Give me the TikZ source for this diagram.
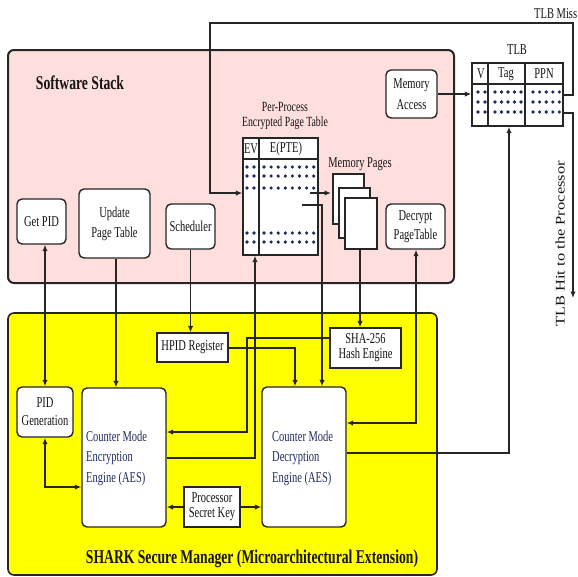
\documentclass[tikz,border=0pt]{standalone}
\usepackage{graphicx}
\usepackage{fontspec}
\setmainfont{Liberation Serif}[FakeStretch=0.7]
\newfontfamily\plainfont{Liberation Serif}
\usetikzlibrary{arrows.meta}
\definecolor{pinkbg}{HTML}{FFDEDE}
\definecolor{yel}{HTML}{FFFF00}
\definecolor{ink}{HTML}{141414}
\definecolor{navy}{HTML}{1F2A5C}
\definecolor{edge}{HTML}{262626}
\newcommand\nfont{\fontsize{15}{18}\selectfont}
\newcommand\sfont{\fontsize{15}{14}\selectfont}
\begin{document}
\begin{tikzpicture}[x=1pt,y=-1pt,
  >={Latex[length=6.5pt,width=5.5pt]},
  rbox/.style={draw=edge, line width=1.4pt, rounded corners=5pt, fill=white, inner sep=0pt, align=center, font=\nfont, text=ink},
  sbox/.style={draw=edge, line width=1.4pt, fill=white, inner sep=0pt, align=center, font=\sfont, text=ink},
  conn/.style={draw=edge, line width=1.4pt},
  lbl/.style={inner sep=0pt, align=center, font=\nfont, text=ink},
  dot/.style={fill=navy, draw=none}]
\useasboundingbox (0,0) rectangle (578,576);
% background regions
\draw[draw=edge, line width=2pt, fill=pinkbg, rounded corners=6pt] (8,50) rectangle (454,283);
\draw[draw=edge, line width=1.6pt, fill=yel, rounded corners=6pt] (8,313) rectangle (437,575);
\node[lbl, font=\fontsize{19.5}{20}\selectfont\bfseries] (sws) at (80,83) {Software Stack};
\node[lbl, font=\fontsize{19.5}{20}\selectfont\bfseries] (shark) at (252,559) {SHARK Secure Manager (Microarchitectural Extension)};

% software stack nodes
\node[rbox, minimum width=49pt, minimum height=45pt] (getpid) at (41.5,221.5) {Get PID};
\node[rbox, minimum width=71pt, minimum height=69pt, font=\fontsize{15}{20}\selectfont] (upt) at (114.5,223.5) {Update\\Page Table};
\node[rbox, minimum width=49pt, minimum height=45pt] (sched) at (190.5,226.5) {Scheduler};
\node[rbox, minimum width=59pt, minimum height=45pt, font=\fontsize{15}{19}\selectfont] (dpt) at (415.5,226.5) {Decrypt\\PageTable};
\node[rbox, minimum width=51pt, minimum height=48pt, font=\fontsize{15}{21}\selectfont] (ma) at (411.5,94) {Memory\\Access};

% page table
\node[lbl, font=\fontsize{14}{14.5}\selectfont] (ptlbl) at (285,116) {Per-Process\\Encrypted Page Table};
\node[draw=edge, line width=1.4pt, fill=white, minimum width=75pt, minimum height=117pt, inner sep=0pt] (pt) at (280.5,196.5) {};
\draw[conn] (pt.west |- 0,159) -- (pt.east |- 0,159);
\draw[conn] (259,0 |- pt.north) -- (259,0 |- pt.south);
\node[lbl] (ev) at (251,149) {EV};
\node[lbl] (epte) at (286,149) {E(PTE)};
\foreach \yy in {167,176,188,233,242} {
  \foreach \xx in {247,254} { \fill[dot] (\xx,\yy) circle (1.8pt); }
  \foreach \k in {0,...,7} { \fill[dot] (264+\k*7.1,\yy) circle (1.8pt); }
}

% memory pages
\node[lbl] (mplbl) at (360,164) {Memory Pages};
\draw[draw=edge, line width=1.3pt, fill=white] (333,174) rectangle (364,224);
\draw[draw=edge, line width=1.3pt, fill=white] (339,188) rectangle (370,238);
\node[draw=edge, line width=1.3pt, fill=white, minimum width=32pt, minimum height=51pt, inner sep=0pt] (mp3) at (361,223.5) {};

% TLB
\node[lbl] (tlblbl) at (517,50) {TLB};
\node[draw=edge, line width=1.4pt, fill=white, minimum width=91pt, minimum height=63pt, inner sep=0pt] (tlb) at (517.5,94.5) {};
\draw[conn] (tlb.west |- 0,84) -- (tlb.east |- 0,84);
\draw[conn] (488,0 |- tlb.north) -- (488,0 |- tlb.south);
\draw[conn] (525,0 |- tlb.north) -- (525,0 |- tlb.south);
\node[lbl] (tv) at (481,74) {V};
\node[lbl] (ttag) at (506,74) {Tag};
\node[lbl] (tppn) at (544,74) {PPN};
\foreach \yy in {92,102,112} {
  \foreach \xx in {478,485} { \fill[dot] (\xx,\yy) circle (1.8pt); }
  \foreach \k in {0,...,4} { \fill[dot] (495+\k*6.5,\yy) circle (1.8pt); }
  \foreach \k in {0,...,4} { \fill[dot] (533+\k*6.6,\yy) circle (1.8pt); }
}
\node[lbl, anchor=west] (miss) at (534,14) {TLB Miss};
\node[rotate=90, inner sep=0pt, text=ink] (hit) at (560,244) {\scalebox{1}[0.8]{\plainfont\fontsize{16.5}{18}\selectfont TLB Hit to the Processor}};

% SHARK nodes
\node[sbox, minimum width=71pt, minimum height=29pt] (hpid) at (192.5,347.5) {HPID Register};
\node[sbox, minimum width=71pt, minimum height=40pt, font=\fontsize{15}{15}\selectfont] (sha) at (365.5,348) {SHA-256\\Hash Engine};
\node[rbox, minimum width=56pt, minimum height=50pt] (pidgen) at (45,412) {PID\\Generation};
\node[rbox, minimum width=84pt, minimum height=139pt] (enc) at (124,457.5) {};
\node[lbl, anchor=west, align=left, text=navy, font=\fontsize{15}{20.5}\selectfont] (enctxt) at (86,458) {Counter Mode\\Encryption\\Engine (AES)};
\node[rbox, minimum width=84pt, minimum height=140pt] (dec) at (304,457) {};
\node[lbl, anchor=west, align=left, text=navy, font=\fontsize{15}{20.5}\selectfont] (dectxt) at (272,458) {Counter Mode\\Decryption\\Engine (AES)};
\node[sbox, minimum width=56pt, minimum height=40pt, font=\fontsize{15}{15}\selectfont] (psk) at (212,507) {Processor\\Secret Key};

% connectors
\draw[conn, <->] (getpid.south -| pidgen.north) -- (pidgen.north);
\draw[conn, <->] (pidgen.south) |- (enc.west |- 0,487);
\draw[conn, ->] (upt.south -| 116,0) -- (enc.north -| 116,0);
\draw[conn, ->] (sched.south) -- (hpid.north -| sched.south);
\draw[conn, ->] (hpid.east |- 0,348) -| (dec.north -| 295,0);
\draw[conn, ->] (sha.west |- 0,338) -| (247,432) -- (enc.east |- 0,432);
\draw[conn, ->] (mp3.south -| 360,0) -- (sha.north -| 360,0);
\coordinate (ptout1) at (310,193);
\coordinate (ptout2) at (302,205);
\draw[conn, ->] (ptout1) -- (331,193);
\draw[conn, ->] (ptout2) -| (dec.north -| 322,0);
\draw[conn, ->] (enc.east |- 0,458) -| (pt.south -| 255,0);
\draw[conn, <->] (dec.east |- 0,423) -| (dpt.south -| 416,0);
\draw[conn, ->] (dec.east |- 0,453) -| (tlb.south -| 509,0);
\draw[conn, ->] (ma.east) -- (tlb.west |- ma.east);
\draw[conn, ->] (psk.west) -- (enc.east |- psk.west);
\draw[conn, ->] (psk.east) -- (dec.west |- psk.east);
\draw[conn, ->] (tlb.east |- 0,95) -- (573,95) -- (573,23) -- (210,23) -- (210,193) -- (pt.west |- 0,193);
\coordinate (hitend) at (573,298);
\draw[conn, ->] (tlb.east |- 0,113) -- (573,113) -- (hitend);
\end{tikzpicture}
\end{document}
